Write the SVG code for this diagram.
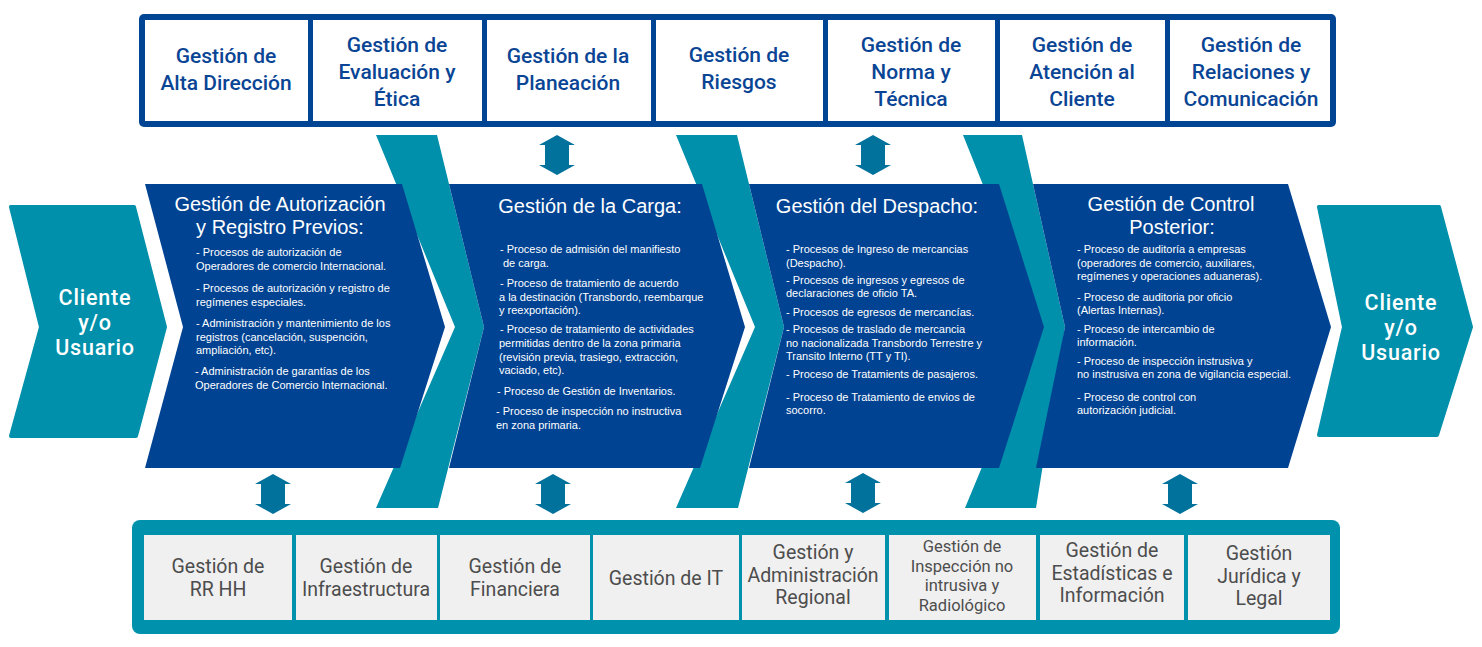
<svg xmlns="http://www.w3.org/2000/svg" width="1482" height="647" viewBox="0 0 1482 647">
<style>
.top{font-family:Roboto,"Liberation Sans",sans-serif;font-weight:500;font-size:21px;fill:#0a4595;text-anchor:middle}
.bot{font-family:Roboto,"Liberation Sans",sans-serif;font-weight:400;font-size:19.5px;fill:#4d4d4d;text-anchor:middle}
.bots{font-size:16.5px}
.ttl{font-family:"Liberation Sans",Arial,sans-serif;font-size:20px;fill:#ffffff;text-anchor:middle}
.bd{font-family:"Liberation Sans",Arial,sans-serif;font-size:11px;fill:#ffffff}
.cli{font-family:Roboto,"Liberation Sans",sans-serif;font-weight:500;font-size:21.5px;letter-spacing:0.8px;fill:#ffffff;text-anchor:middle}
.teal{fill:#0090ab}
.blue{fill:#004393}
.cell{fill:#ffffff}
.gcell{fill:#f0f0f0}
.arr{fill:#00729b}
</style>
<defs>
<path id="dbl" d="M0,0 L18,10 L12,10 L12,30 L18,30 L0,40 L-18,30 L-12,30 L-12,10 L-18,10 Z"/>
</defs>
<rect width="1482" height="647" fill="#ffffff"/>

<!-- top frame -->
<g id="top-bar">
<rect x="139" y="14" width="1197" height="113" rx="5" fill="#004494"/>
</g>
<g id="n-alta"><rect class="cell" x="145" y="20" width="163" height="101"/><text class="top" x="226"><tspan x="226" y="63">Gestión de</tspan><tspan x="226" y="90">Alta Dirección</tspan></text></g>
<g id="n-evaluacion"><rect class="cell" x="313" y="20" width="169" height="101"/><text class="top"><tspan x="397" y="52">Gestión de</tspan><tspan x="397" y="79">Evaluación y</tspan><tspan x="397" y="106">Ética</tspan></text></g>
<g id="n-planeacion"><rect class="cell" x="487" y="20" width="164" height="101"/><text class="top"><tspan x="568" y="63">Gestión de la</tspan><tspan x="568" y="90">Planeación</tspan></text></g>
<g id="n-riesgos"><rect class="cell" x="656" y="20" width="167" height="101"/><text class="top"><tspan x="739" y="62">Gestión de</tspan><tspan x="739" y="89">Riesgos</tspan></text></g>
<g id="n-norma"><rect class="cell" x="828" y="20" width="167" height="101"/><text class="top"><tspan x="911" y="52">Gestión de</tspan><tspan x="911" y="79">Norma y</tspan><tspan x="911" y="106">Técnica</tspan></text></g>
<g id="n-atencion"><rect class="cell" x="1000" y="20" width="165" height="101"/><text class="top"><tspan x="1082" y="52">Gestión de</tspan><tspan x="1082" y="79">Atención al</tspan><tspan x="1082" y="106">Cliente</tspan></text></g>
<g id="n-relaciones"><rect class="cell" x="1170" y="20" width="160" height="101"/><text class="top"><tspan x="1251" y="52">Gestión de</tspan><tspan x="1251" y="79">Relaciones y</tspan><tspan x="1251" y="106">Comunicación</tspan></text></g>

<!-- teal ribbons -->
<g id="ribbons">
<polygon class="teal" points="376,135 437,135 484,327 438,508 376,508 455,327"/>
<polygon class="teal" points="676,135 737,135 784,327 738,508 676,508 755,327"/>
<polygon class="teal" points="963,135 1022,135 1065,327 1036,508 965,508 1040,327"/>
</g>

<!-- clients -->
<g id="n-cliente-in">
<polygon class="teal" stroke="#0090ab" stroke-width="4" stroke-linejoin="round" points="11,207 134,207 165,327 136,436 11,436 41,327"/>
<text class="cli"><tspan x="95" y="305">Cliente</tspan><tspan x="95" y="330">y/o</tspan><tspan x="95" y="355">Usuario</tspan></text>
</g>
<g id="n-cliente-out">
<polygon class="teal" stroke="#0090ab" stroke-width="4" stroke-linejoin="round" points="1319,207 1439,207 1471,327 1437,435 1319,435 1344,327"/>
<text class="cli"><tspan x="1401" y="310">Cliente</tspan><tspan x="1401" y="335">y/o</tspan><tspan x="1401" y="360">Usuario</tspan></text>
</g>

<!-- process chevrons -->
<g id="n-autorizacion">
<polygon class="blue" points="145,184 402,184 445,327 400,468 145,468 183,327"/>
<text class="ttl"><tspan x="280" y="211">Gestión de Autorización</tspan><tspan x="280" y="234">y Registro Previos:</tspan></text>
<text class="bd">
<tspan x="196" y="256">- Procesos de autorización de</tspan>
<tspan x="196" y="270">Operadores de comercio Internacional.</tspan>
<tspan x="196" y="292">- Procesos de autorización y registro de</tspan>
<tspan x="196" y="306">regímenes especiales.</tspan>
<tspan x="196" y="327">- Administración y mantenimiento de los</tspan>
<tspan x="196" y="341">registros (cancelación, suspención,</tspan>
<tspan x="196" y="354">ampliación, etc).</tspan>
<tspan x="195" y="375">- Administración de garantías de los</tspan>
<tspan x="195" y="389">Operadores de Comercio Internacional.</tspan>
</text>
</g>
<g id="n-carga">
<polygon class="blue" points="449,184 702,184 745,327 700,468 449,468 484,327"/>
<text class="ttl" x="590" y="213">Gestión de la Carga:</text>
<text class="bd">
<tspan x="500" y="253">- Proceso de admisión del manifiesto</tspan>
<tspan x="503" y="267">de carga.</tspan>
<tspan x="500" y="287">- Proceso de tratamiento de acuerdo</tspan>
<tspan x="499" y="301">a la destinación (Transbordo, reembarque</tspan>
<tspan x="499" y="314">y reexportación).</tspan>
<tspan x="500" y="333">- Proceso de tratamiento de actividades</tspan>
<tspan x="499" y="347">permitidas dentro de la zona primaria</tspan>
<tspan x="499" y="361">(revisión previa, trasiego, extracción,</tspan>
<tspan x="499" y="374">vaciado, etc).</tspan>
<tspan x="497" y="395">- Proceso de Gestión de Inventarios.</tspan>
<tspan x="496" y="415">- Proceso de inspección no instructiva</tspan>
<tspan x="496" y="429">en zona primaria.</tspan>
</text>
</g>
<g id="n-despacho">
<polygon class="blue" points="749,184 999,184 1044,327 999,468 749,468 784,327"/>
<text class="ttl" x="877" y="213">Gestión del Despacho:</text>
<text class="bd">
<tspan x="786" y="253">- Procesos de Ingreso de mercancias</tspan>
<tspan x="786" y="267">(Despacho).</tspan>
<tspan x="786" y="284">- Procesos de ingresos y egresos de</tspan>
<tspan x="786" y="297">declaraciones de oficio TA.</tspan>
<tspan x="786" y="316">- Procesos de egresos de mercancías.</tspan>
<tspan x="786" y="333">- Procesos de traslado de mercancia</tspan>
<tspan x="786" y="347">no nacionalizada Transbordo Terrestre y</tspan>
<tspan x="786" y="360">Transito Interno (TT y TI).</tspan>
<tspan x="786" y="378">- Proceso de Tratamients de pasajeros.</tspan>
<tspan x="786" y="401">- Proceso de Tratamiento de envios de</tspan>
<tspan x="786" y="414">socorro.</tspan>
</text>
</g>
<g id="n-control">
<polygon class="blue" points="1033,184 1288,184 1331,327 1288,468 1036,468 1065,327"/>
<text class="ttl"><tspan x="1171" y="211">Gestión de Control</tspan><tspan x="1172" y="234">Posterior:</tspan></text>
<text class="bd">
<tspan x="1077" y="253">- Proceso de auditoría a empresas</tspan>
<tspan x="1077" y="267">(operadores de comercio, auxiliares,</tspan>
<tspan x="1077" y="280">regímenes y operaciones aduaneras).</tspan>
<tspan x="1077" y="301">- Proceso de auditoria por oficio</tspan>
<tspan x="1077" y="314">(Alertas Internas).</tspan>
<tspan x="1077" y="333">- Proceso de intercambio de</tspan>
<tspan x="1077" y="346">información.</tspan>
<tspan x="1077" y="365">- Proceso de inspección instrusiva y</tspan>
<tspan x="1077" y="378">no instrusiva en zona de vigilancia especial.</tspan>
<tspan x="1077" y="401">- Proceso de control con</tspan>
<tspan x="1077" y="414">autorización judicial.</tspan>
</text>
</g>

<!-- bottom frame -->
<g id="bottom-bar">
<rect x="132" y="520" width="1208" height="114" rx="8" fill="#0091ac"/>
</g>
<g id="n-rrhh"><rect class="gcell" x="144" y="535" width="148" height="85"/><text class="bot"><tspan x="218" y="573">Gestión de</tspan><tspan x="218" y="596">RR HH</tspan></text></g>
<g id="n-infra"><rect class="gcell" x="296" y="535" width="141" height="85"/><text class="bot"><tspan x="366" y="573">Gestión de</tspan><tspan x="366" y="596">Infraestructura</tspan></text></g>
<g id="n-financiera"><rect class="gcell" x="440" y="535" width="150" height="85"/><text class="bot"><tspan x="515" y="573">Gestión de</tspan><tspan x="515" y="596">Financiera</tspan></text></g>
<g id="n-it"><rect class="gcell" x="593" y="535" width="146" height="85"/><text class="bot" x="666" y="585">Gestión de IT</text></g>
<g id="n-regional"><rect class="gcell" x="742" y="535" width="143" height="85"/><text class="bot"><tspan x="813" y="559">Gestión y</tspan><tspan x="813" y="582">Administración</tspan><tspan x="813" y="604">Regional</tspan></text></g>
<g id="n-inspeccion"><rect class="gcell" x="889" y="535" width="147" height="85"/><text class="bot bots"><tspan x="962" y="552">Gestión de</tspan><tspan x="962" y="572">Inspección no</tspan><tspan x="962" y="591">intrusiva y</tspan><tspan x="962" y="611">Radiológico</tspan></text></g>
<g id="n-estadisticas"><rect class="gcell" x="1040" y="535" width="144" height="85"/><text class="bot"><tspan x="1112" y="557">Gestión de</tspan><tspan x="1112" y="580">Estadísticas e</tspan><tspan x="1112" y="602">Información</tspan></text></g>
<g id="n-juridica"><rect class="gcell" x="1188" y="535" width="142" height="85"/><text class="bot"><tspan x="1259" y="560">Gestión</tspan><tspan x="1259" y="583">Jurídica y</tspan><tspan x="1259" y="605">Legal</tspan></text></g>

<!-- connectors -->
<g id="connectors" class="arr">
<use href="#dbl" x="557" y="135"/>
<use href="#dbl" x="873" y="135"/>
<use href="#dbl" x="273" y="474"/>
<use href="#dbl" x="553" y="474"/>
<use href="#dbl" x="863" y="473"/>
<use href="#dbl" x="1180" y="474"/>
</g>
</svg>
